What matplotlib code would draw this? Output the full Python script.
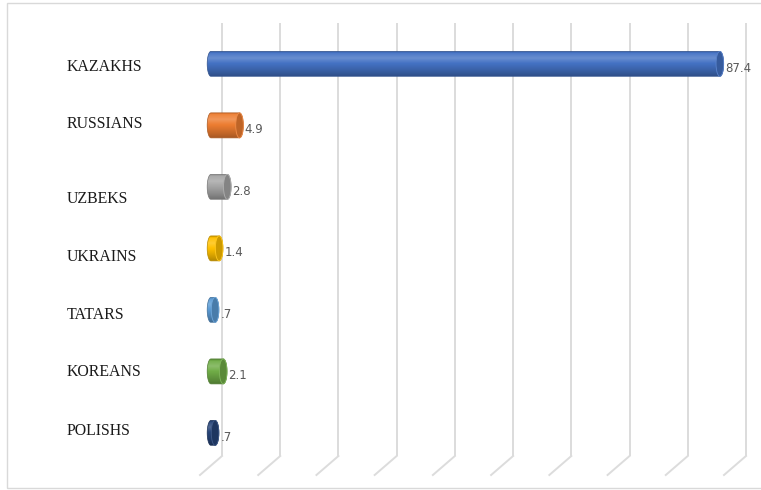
import numpy as np
import matplotlib
matplotlib.use("Agg")
import matplotlib.pyplot as plt
from matplotlib import transforms
from matplotlib.patches import Polygon, Ellipse, Rectangle
from matplotlib.lines import Line2D
from matplotlib.colors import to_rgb

# ---- data -------------------------------------------------------------
groups = ["KAZAKHS", "RUSSIANS", "UZBEKS", "UKRAINS", "TATARS", "KOREANS", "POLISHS"]
shares = [87.4, 4.9, 2.8, 1.4, 0.7, 2.1, 0.7]
bar_colors = ["#4472C4", "#ED7D31", "#A5A5A5", "#FFC000", "#5B9BD5", "#70AD47", "#264478"]
grid_values = list(range(0, 100, 10))

# ---- figure / back wall of the 3-D plot area ---------------------------
W, H, DPI = 761, 490, 100
fig = plt.figure(figsize=(W / DPI, H / DPI), dpi=DPI)
fig.patch.set_facecolor("white")

L, R, T, B = 222, 746, 23, 456          # back wall edges in pixels
YTOP, YBOT = -0.51, 6.53
ax = fig.add_axes([L / W, 1 - B / H, (R - L) / W, (B - T) / H])
ax.set_axis_off()

px_x = (R - L) / 90.0                    # pixels per data unit (x)
px_y = (B - T) / (YBOT - YTOP)           # pixels per category (y)

# depth of the floor (pixels, right / down)
FLOOR_DX, FLOOR_DY = -22, 19
# bars sit half way into the depth
mid = transforms.ScaledTranslation(FLOOR_DX / 2 / DPI, -FLOOR_DY / 2 / DPI,
                                   fig.dpi_scale_trans)
tr_bar = ax.transData + mid

# ---- gridlines: back wall + floor diagonals ----------------------------
grid_col = "#dcdcdc"
ax.vlines(grid_values, YTOP, YBOT, colors=grid_col, linewidth=1.4,
          clip_on=False, zorder=1)
for g in grid_values:
    ax.add_line(Line2D([g, g + FLOOR_DX / px_x], [YBOT, YBOT + FLOOR_DY / px_y],
                       color=grid_col, linewidth=1.4, clip_on=False, zorder=1))


def shade(c, k):
    c = np.asarray(to_rgb(c))
    if k <= 1:
        return c * k
    return c + (1 - c) * min((k - 1) * 2.0, 1.0)


# cylinder shading profile, top -> bottom
prof_t = [0.0, 0.07, 0.28, 0.55, 0.85, 1.0]
prof_k = [0.78, 1.02, 1.10, 0.97, 0.80, 0.70]

CAP_PX = 3.8                              # half width of the end ellipses
RAD_PX = 12.5                             # half height of a cylinder
a = CAP_PX / px_x
r = RAD_PX / px_y

t = np.linspace(0, 1, 80)
k = np.interp(t, prof_t, prof_k)
phi_l = np.linspace(np.pi / 2, 3 * np.pi / 2, 60)
phi_r = np.linspace(3 * np.pi / 2, 5 * np.pi / 2, 60)

for i, (v, col) in enumerate(zip(shares, bar_colors)):
    x0, x1 = 0.0, v
    xs = np.concatenate([x0 + a * np.cos(phi_l), x1 + a * np.cos(phi_r)])
    ys = np.concatenate([i - r * np.sin(phi_l), i - r * np.sin(phi_r)])
    body = Polygon(np.column_stack([xs, ys]), closed=True, transform=tr_bar,
                   facecolor="none", edgecolor=shade(col, 0.72), linewidth=0.5,
                   clip_on=False, zorder=3)
    ax.add_patch(body)

    grad = np.array([shade(col, kk) for kk in k])[:, None, :].repeat(2, axis=1)
    im = ax.imshow(grad, extent=(x0 - a, x1 + a, i + r, i - r), origin="upper",
                   aspect="auto", transform=tr_bar, interpolation="bilinear",
                   zorder=2)
    im.set_clip_box(fig.bbox)
    im.set_clip_path(body)

    cap = Ellipse((x1, i), 2 * a, 2 * r, transform=tr_bar,
                  facecolor=shade(col, 0.80), edgecolor=shade(col, 1.06),
                  linewidth=0.6, clip_on=False, zorder=4)
    ax.add_patch(cap)

    txt = f"{v:.1f}"
    if txt.startswith("0"):
        txt = txt[1:]
    ax.annotate(txt, xy=(v, i), xycoords=tr_bar,
                xytext=((CAP_PX + 1.5) * 0.72, -8 * 0.72), textcoords="offset points",
                ha="left", va="baseline", fontsize=8.5, color="#595959",
                family="DejaVu Sans", annotation_clip=False, zorder=5)

# ---- category labels ---------------------------------------------------
label_drop_px = [16.6, 12.1, 25.6, 22.1, 18.6, 14.1, 11.6]
for i, (name, d) in enumerate(zip(groups, label_drop_px)):
    ax.annotate(name, xy=(67 / W, i), xycoords=("figure fraction", "data"),
                xytext=(0, -d * 0.72), textcoords="offset points",
                ha="left", va="baseline", fontsize=11.4, color="#1a1a1a",
                family="Liberation Serif", annotation_clip=False)

ax.set_xlim(0, 90)
ax.set_ylim(YBOT, YTOP)

# ---- outer chart border ------------------------------------------------
fig.add_artist(Rectangle((6.5 / W, 2.5 / H), 1.0, 1 - 5.5 / H,
                         transform=fig.transFigure, fill=False,
                         edgecolor="#d9d9d9", linewidth=1.0))

fig.savefig("out.png", dpi=DPI)
